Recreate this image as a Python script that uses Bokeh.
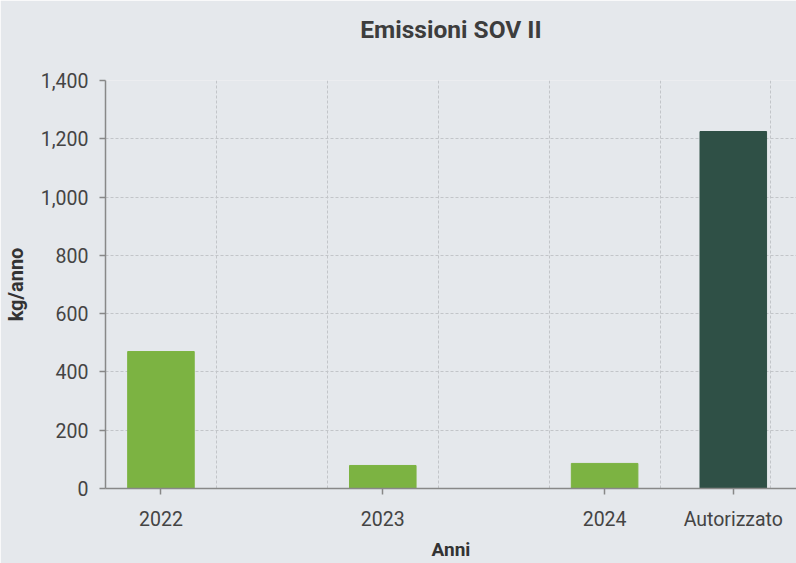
from bokeh.plotting import figure
from bokeh.models import Range1d, FixedTicker, NumeralTickFormatter, ColumnDataSource, LinearAxis
from bokeh.embed import file_html
from bokeh.resources import INLINE

# ---- data ----
anni = ["2022", "2023", "2024"]
emissioni = [470, 79, 86]          # kg/anno
autorizzato_label = "Autorizzato"
autorizzato = [1225]               # kg/anno
y_ticks = [0, 200, 400, 600, 800, 1000, 1200, 1400]
title_text = "Emissioni SOV II"
x_title = "Anni"
y_title = "kg/anno"

# ---- style ----
BG = "#e5e8ec"
GREEN = "#7cb342"
DARK = "#2f5046"
TXT = "#444444"
FONT = "Roboto"

# layout positions (slots): years every 2 slots, authorised value after the last year
year_pos = [0.5 + 2 * i for i in range(len(anni))]
auth_pos = [year_pos[-1] + 1.16]
X_END = 6.23

src_years = ColumnDataSource(dict(x=year_pos, top=emissioni, label=anni))
src_auth = ColumnDataSource(dict(x=auth_pos, top=autorizzato, label=[autorizzato_label]))

p = figure(width=796, height=563,
           x_range=Range1d(0, X_END), y_range=Range1d(0, y_ticks[-1]),
           output_backend="svg", toolbar_location=None, title_location=None,
           background_fill_color=BG, border_fill_color=BG,
           min_border_left=104, min_border_right=0, min_border_top=80, min_border_bottom=75)
p.outline_line_color = None

p.vbar(x="x", top="top", width=0.6, source=src_years, color=GREEN)
p.vbar(x="x", top="top", width=0.6, source=src_auth, color=DARK)

xa = p.below[0]
ya = p.left[0]

# title: label of a tick-less axis above the frame
top_ax = LinearAxis(ticker=FixedTicker(ticks=[]), axis_line_color=None,
                    major_tick_line_color=None, minor_tick_line_color=None,
                    major_tick_out=0, major_tick_in=0, major_label_text_font_size="0px",
                    axis_label=title_text, axis_label_standoff=37,
                    axis_label_text_font=FONT, axis_label_text_font_size="24.5px",
                    axis_label_text_font_style="bold", axis_label_text_color="#3d3d3d")
p.add_layout(top_ax, "above")

# x axis
all_pos = year_pos + auth_pos
xa.ticker = FixedTicker(ticks=all_pos)
xa.major_label_overrides = {pos: lab for pos, lab in zip(all_pos, anni + [autorizzato_label])}
xa.minor_tick_line_color = None
xa.axis_label = x_title

# y axis
ya.ticker = FixedTicker(ticks=y_ticks)
ya.formatter = NumeralTickFormatter(format="0,0")
ya.axis_label = y_title
ya.minor_tick_line_color = None

for ax in (xa, ya):
    ax.axis_line_color = "#888888"
    ax.axis_line_width = 1.5
    ax.major_tick_line_color = "#888888"
    ax.major_tick_line_width = 1.5
    ax.major_tick_out = 6
    ax.major_tick_in = 0
    ax.major_label_text_font = FONT
    ax.major_label_text_font_size = "19.5px"
    ax.major_label_text_color = TXT
    ax.axis_label_text_font = FONT
    ax.axis_label_text_font_size = "20px"
    ax.axis_label_text_font_style = "bold"
    ax.axis_label_text_color = "#333333"

xa.axis_label_text_font_size = "19px"
xa.major_label_standoff = 13
xa.axis_label_standoff = 4
ya.major_label_standoff = 11
ya.axis_label_standoff = 10

# grids
p.xgrid.ticker = FixedTicker(ticks=[0, 1, 2, 3, 4, 5, 6])
p.ygrid.ticker = FixedTicker(ticks=y_ticks)
for g in (p.xgrid[0], p.ygrid[0]):
    g.grid_line_color = "#c2c5c9"
    g.grid_line_width = 1
    g.grid_line_dash = "3 2"

open("out.html", "w").write(file_html(p, INLINE))
